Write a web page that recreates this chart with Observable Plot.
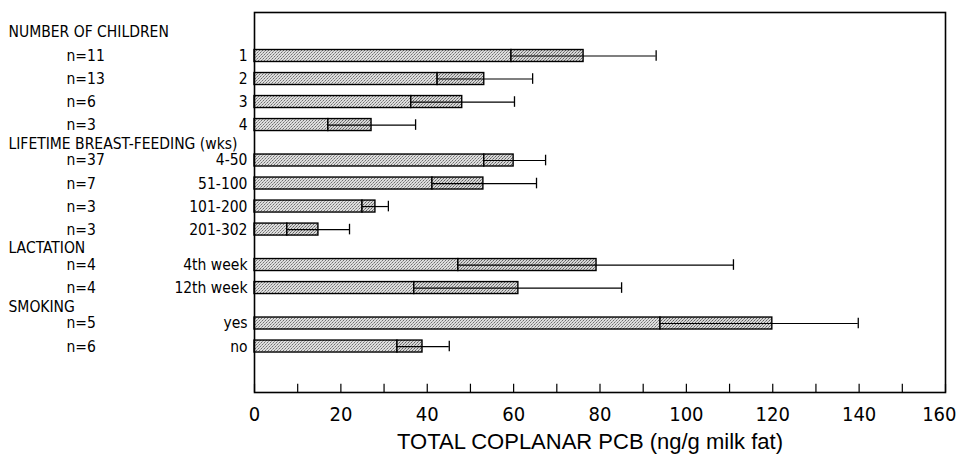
<!DOCTYPE html>
<html><head><meta charset="utf-8">
<script src="https://cdn.jsdelivr.net/npm/d3@7"></script>
<script src="https://cdn.jsdelivr.net/npm/@observablehq/plot@0.6"></script>
<style>
body{margin:0;background:#fff}
#chart svg{font-family:"Liberation Sans Narrow","Arial Narrow","DejaVu Sans Condensed",sans-serif;}
</style>
</head><body><div id="chart"></div>
<script>
// ---- data ----
const groups = ["NUMBER OF CHILDREN", "LIFETIME BREAST-FEEDING (wks)", "LACTATION", "SMOKING"];
const groupOf = [0, 0, 0, 0, 1, 1, 1, 1, 2, 2, 3, 3];
const categories = ["1", "2", "3", "4", "4-50", "51-100", "101-200", "201-302", "4th week", "12th week", "yes", "no"];
const nLabels = ["n=11", "n=13", "n=6", "n=3", "n=37", "n=7", "n=3", "n=3", "n=4", "n=4", "n=5", "n=6"];
const lower = [59.5, 42.4, 36.3, 17.1, 53.2, 41.2, 25.0, 7.6, 47.2, 37.0, 94.0, 33.1];
const mean  = [76.2, 53.2, 48.1, 27.1, 60.0, 53.0, 28.0, 14.8, 79.2, 61.1, 119.9, 38.9];
const upper = [93.0, 64.4, 60.2, 37.3, 67.4, 65.3, 31.0, 22.0, 110.9, 85.0, 139.8, 45.1];
const xTicks = [0, 20, 40, 60, 80, 100, 120, 140, 160];
const xMinorTicks = [0, 10, 20, 30, 40, 50, 60, 70, 80, 90, 100, 110, 120, 130, 140, 150, 160];
const xTitle = "TOTAL COPLANAR PCB (ng/g milk fat)";

// ---- layout helpers ----
const gapRows = 0.541;       // extra space between groups (in row units)
const yTop = -1.89, yBottom = 14.62;
const half = 0.26;
const rows = categories.map((c, i) => ({
  cat: c, n: nLabels[i], lo: lower[i], mean: mean[i], hi: upper[i],
  pos: i + groupOf[i] * gapRows
}));
const heads = groups.map((g, k) => {
  const first = rows[groupOf.indexOf(k)].pos;
  return {text: g, pos: first - (k === 0 ? 1.06 : 0.73)};
});
const lastTick = xTicks[xTicks.length - 1];

const chart = Plot.plot({
  width: 957, height: 465,
  marginLeft: 254, marginRight: 12, marginTop: 12, marginBottom: 73,
  x: {domain: [0, 160], axis: null},
  y: {domain: [yTop, yBottom], reverse: true, axis: null},
  style: {background: "white", color: "black", overflow: "visible"},
  marks: [
    Plot.rectX(rows, {x1: 0, x2: "lo", y1: d => d.pos - half, y2: d => d.pos + half,
      fill: "url(#stip1)", stroke: "black", strokeWidth: 1.4}),
    Plot.rectX(rows, {x1: "lo", x2: "mean", y1: d => d.pos - half, y2: d => d.pos + half,
      fill: "url(#stip2)", stroke: "black", strokeWidth: 1.4}),
    Plot.ruleY(rows, {y: "pos", x1: "lo", x2: "hi", stroke: "black", strokeWidth: 1.2}),
    Plot.ruleX(rows, {x: "hi", y1: d => d.pos - 0.23, y2: d => d.pos + 0.23, stroke: "black", strokeWidth: 1.3}),
    Plot.ruleX(xMinorTicks, {x: d => d, y1: yBottom, y2: yBottom - 0.36, stroke: "black", strokeWidth: 1.2}),
    Plot.frame({stroke: "black", strokeWidth: 1.6}),
    Plot.text(rows, {x: 0, y: "pos", text: "cat", textAnchor: "end", dx: -7, fontSize: 15.5}),
    Plot.text(rows, {x: 0, y: "pos", text: "n", textAnchor: "start", dx: -188, fontSize: 15.5}),
    Plot.text(heads, {x: 0, y: "pos", text: "text", textAnchor: "start", dx: -246, fontSize: 15.5}),
    // tick labels
    Plot.text(xTicks.filter(t => t !== lastTick), {x: d => d, frameAnchor: "bottom", dy: 22,
      lineAnchor: "middle", fontSize: 20}),
    Plot.text([lastTick], {x: d => d, frameAnchor: "bottom", dy: 22, dx: 11, textAnchor: "end",
      lineAnchor: "middle", fontSize: 20}),
    Plot.text([xTitle], {frameAnchor: "bottom", dy: 49, dx: -10, fontSize: 22, lineAnchor: "middle",
      fontFamily: "'Liberation Sans', Arial, sans-serif"})
  ]
});

// stipple patterns for the bar fills
const ns = "http://www.w3.org/2000/svg";
const defs = document.createElementNS(ns, "defs");
const dots = (dark, light) => [[0,0],[3,0],[1,2],[4,2],[2,4],[5,4]].map(([x,y]) =>
  `<rect x="${x}" y="${y}" width="1" height="1" fill="${dark}"/>`).join("") +
  [[2,1],[5,1],[0,3],[3,3],[1,5],[4,5]].map(([x,y]) =>
  `<rect x="${x}" y="${y}" width="1" height="1" fill="${light}"/>`).join("");
defs.innerHTML = `
<pattern id="stip1" width="6" height="6" patternUnits="userSpaceOnUse">
  <rect width="6" height="6" fill="#dedede"/>${dots("#707070", "#a0a0a0")}
</pattern>
<pattern id="stip2" width="6" height="6" patternUnits="userSpaceOnUse">
  <rect width="6" height="6" fill="#d6d6d6"/>${dots("#606060", "#8a8a8a")}
</pattern>`;
chart.insertBefore(defs, chart.firstChild);
document.getElementById("chart").appendChild(chart);
</script>
</body></html>
